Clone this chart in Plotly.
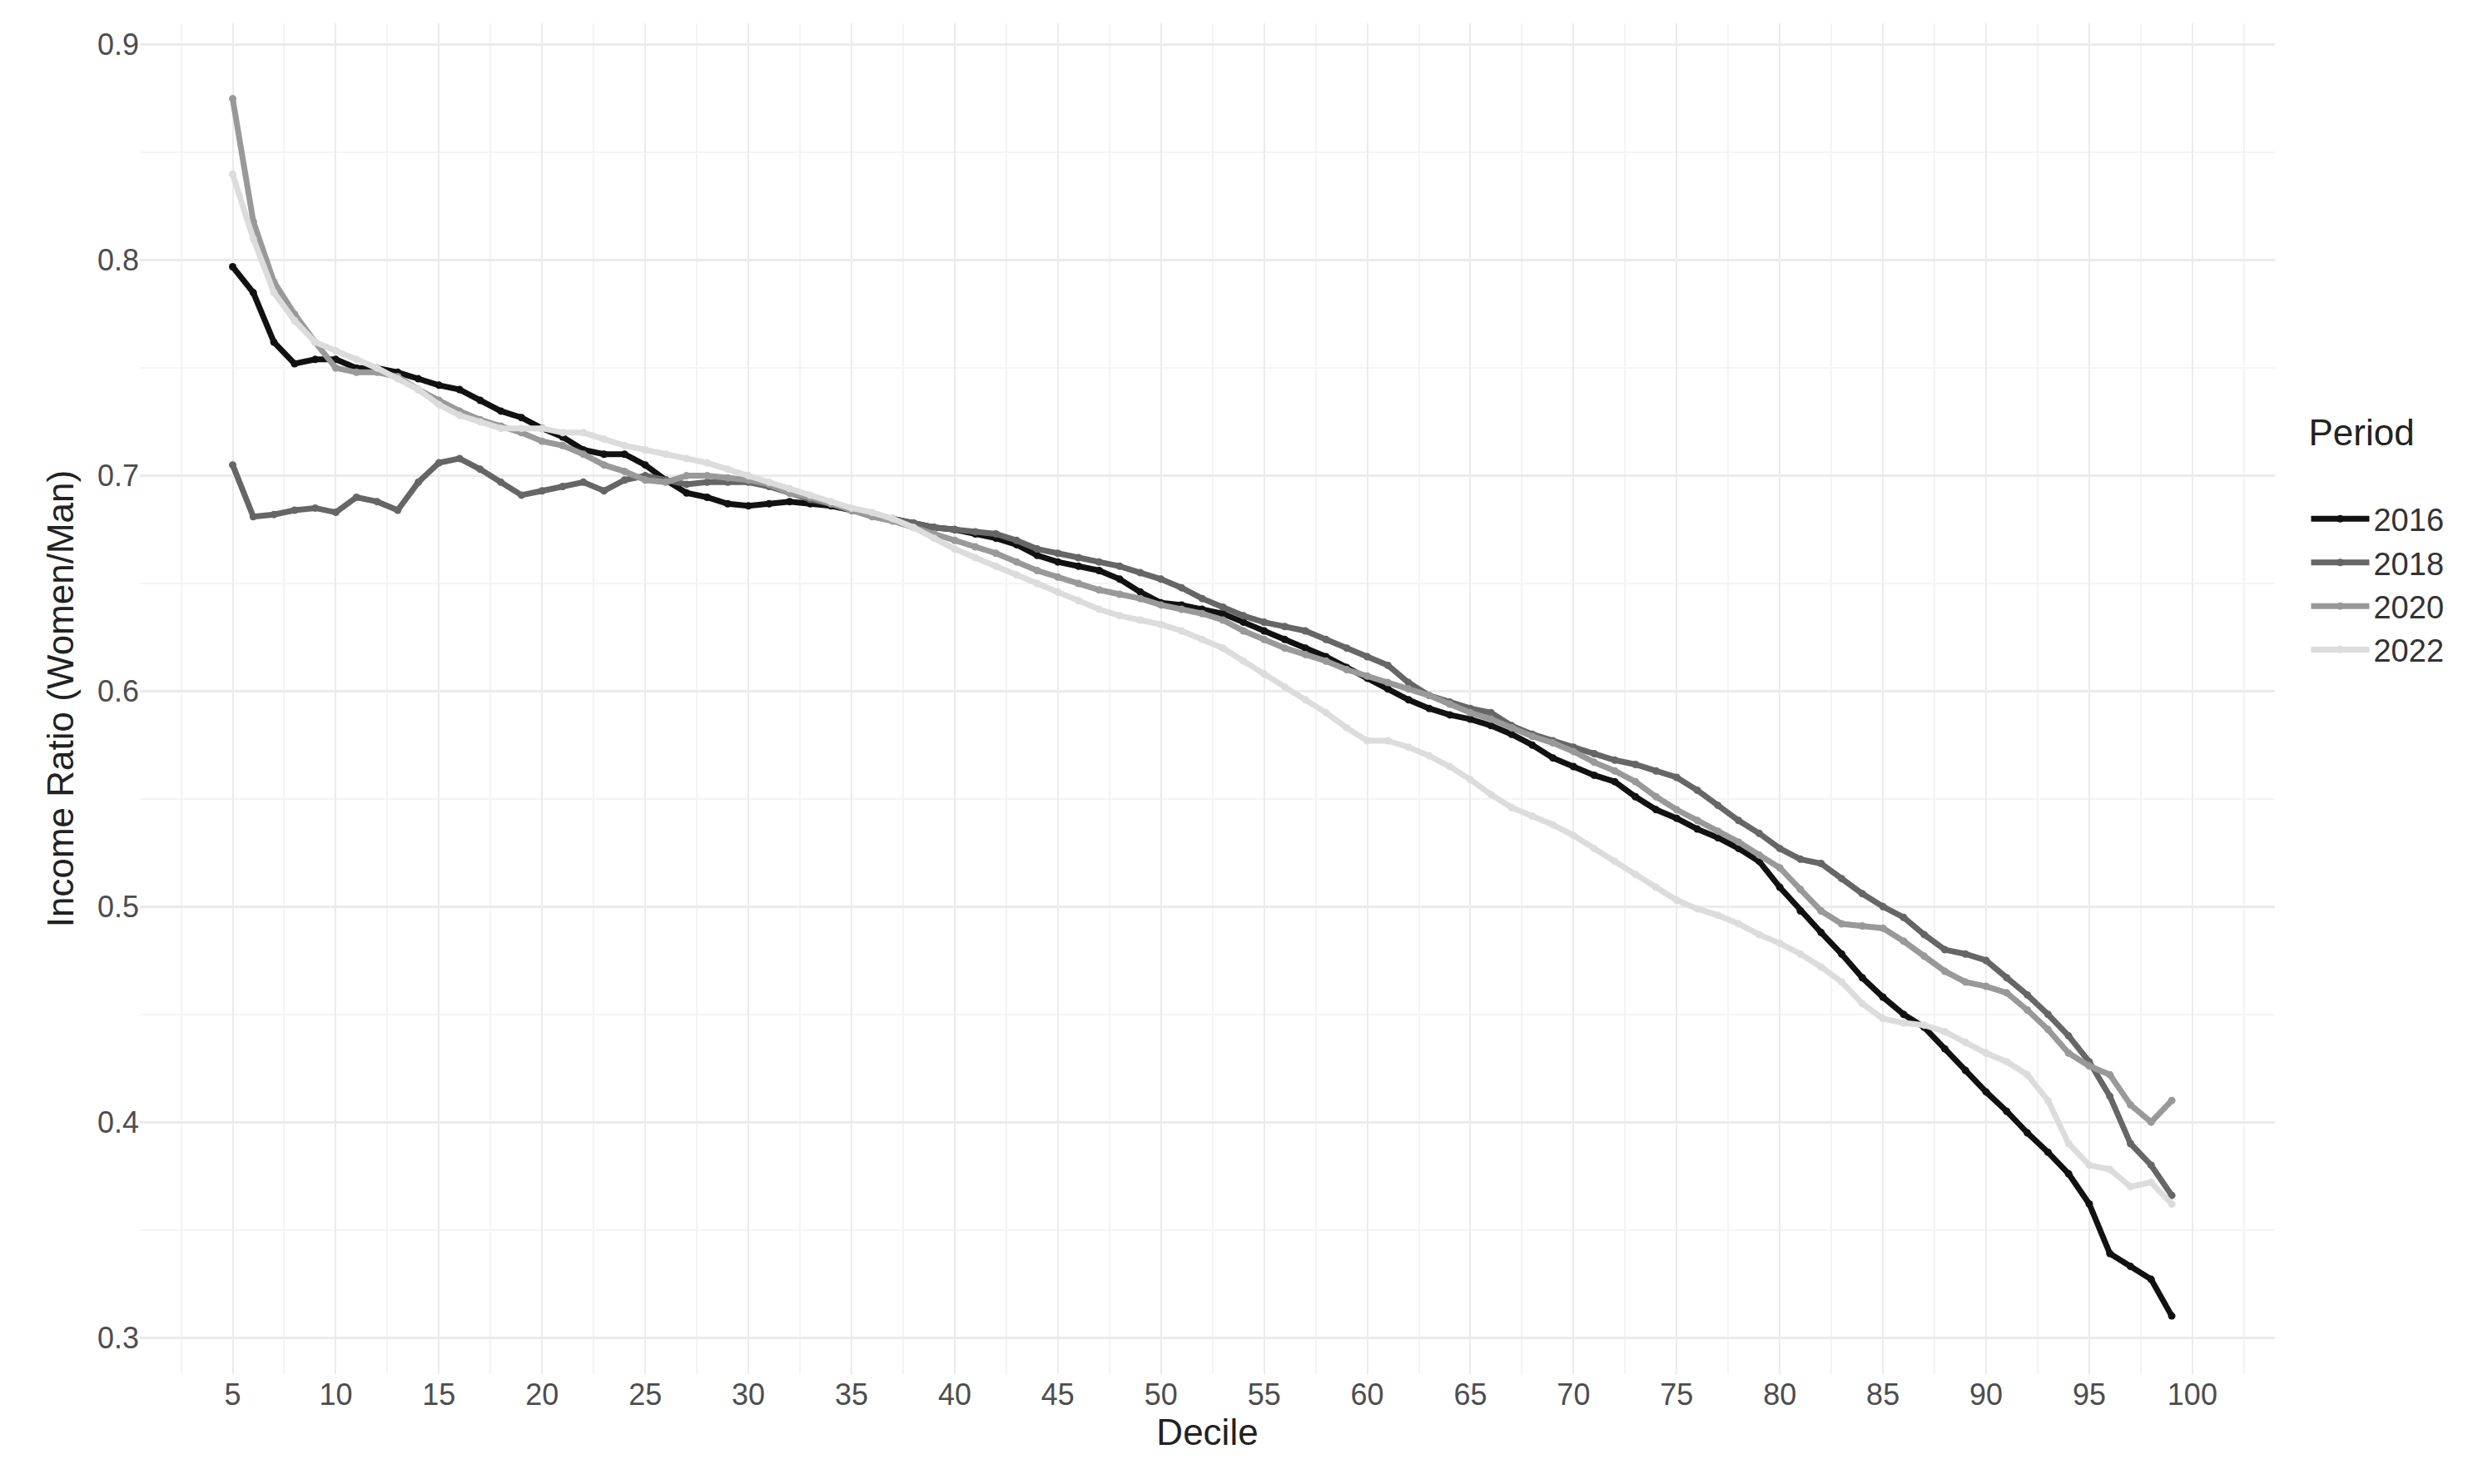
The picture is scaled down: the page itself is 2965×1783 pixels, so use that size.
import plotly.graph_objects as go

# === DATA ===
deciles = list(range(5, 100))

r2016 = [0.797, 0.785, 0.762, 0.752, 0.754, 0.754, 0.750, 0.750, 0.748, 0.745,
         0.742, 0.740, 0.735, 0.730, 0.727, 0.722, 0.718, 0.712, 0.710, 0.710,
         0.705, 0.698, 0.692, 0.690, 0.687, 0.686, 0.687, 0.688, 0.687, 0.686,
         0.684, 0.682, 0.680, 0.678, 0.676, 0.675, 0.673, 0.671, 0.668, 0.663,
         0.660, 0.658, 0.656, 0.652, 0.646, 0.641, 0.640, 0.638, 0.636, 0.632,
         0.628, 0.624, 0.620, 0.616, 0.611, 0.606, 0.601, 0.596, 0.592, 0.589,
         0.587, 0.584, 0.580, 0.575, 0.569, 0.565, 0.561, 0.558, 0.551, 0.545,
         0.541, 0.536, 0.532, 0.527, 0.521, 0.509, 0.498, 0.488, 0.478, 0.467,
         0.458, 0.450, 0.444, 0.434, 0.424, 0.414, 0.405, 0.395, 0.386, 0.376,
         0.362, 0.339, 0.333, 0.327, 0.310]

r2018 = [0.705, 0.681, 0.682, 0.684, 0.685, 0.683, 0.690, 0.688, 0.684, 0.697,
         0.706, 0.708, 0.703, 0.697, 0.691, 0.693, 0.695, 0.697, 0.693, 0.698,
         0.700, 0.698, 0.696, 0.697, 0.697, 0.697, 0.695, 0.692, 0.689, 0.687,
         0.684, 0.682, 0.680, 0.678, 0.676, 0.675, 0.674, 0.673, 0.670, 0.666,
         0.664, 0.662, 0.660, 0.658, 0.655, 0.652, 0.648, 0.643, 0.639, 0.635,
         0.632, 0.630, 0.628, 0.624, 0.620, 0.616, 0.612, 0.604, 0.598, 0.595,
         0.592, 0.590, 0.584, 0.580, 0.577, 0.574, 0.571, 0.568, 0.566, 0.563,
         0.560, 0.554, 0.547, 0.540, 0.534, 0.527, 0.522, 0.520, 0.513, 0.506,
         0.500, 0.495, 0.487, 0.480, 0.478, 0.475, 0.467, 0.459, 0.450, 0.440,
         0.428, 0.412, 0.390, 0.380, 0.366]

r2020 = [0.875, 0.818, 0.790, 0.775, 0.762, 0.750, 0.748, 0.748, 0.746, 0.740,
         0.735, 0.730, 0.726, 0.723, 0.720, 0.716, 0.714, 0.710, 0.705, 0.702,
         0.698, 0.697, 0.700, 0.700, 0.699, 0.698, 0.696, 0.692, 0.690, 0.687,
         0.684, 0.681, 0.679, 0.676, 0.673, 0.670, 0.667, 0.664, 0.660, 0.656,
         0.653, 0.650, 0.647, 0.645, 0.643, 0.640, 0.638, 0.636, 0.633, 0.628,
         0.624, 0.620, 0.617, 0.614, 0.610, 0.607, 0.604, 0.601, 0.598, 0.594,
         0.590, 0.587, 0.583, 0.579, 0.576, 0.572, 0.567, 0.563, 0.558, 0.551,
         0.545, 0.540, 0.535, 0.530, 0.524, 0.518, 0.508, 0.498, 0.492, 0.491,
         0.490, 0.484, 0.477, 0.470, 0.465, 0.463, 0.460, 0.452, 0.443, 0.432,
         0.426, 0.422, 0.408, 0.400, 0.410]

r2022 = [0.840, 0.810, 0.785, 0.772, 0.762, 0.758, 0.754, 0.750, 0.745, 0.740,
         0.733, 0.728, 0.725, 0.722, 0.722, 0.722, 0.720, 0.720, 0.717, 0.714,
         0.712, 0.710, 0.708, 0.706, 0.703, 0.700, 0.697, 0.694, 0.691, 0.688,
         0.685, 0.683, 0.680, 0.676, 0.671, 0.666, 0.662, 0.658, 0.654, 0.650,
         0.646, 0.642, 0.638, 0.635, 0.633, 0.631, 0.628, 0.624, 0.620, 0.614,
         0.608, 0.602, 0.596, 0.590, 0.583, 0.577, 0.577, 0.574, 0.570, 0.565,
         0.559, 0.552, 0.546, 0.542, 0.538, 0.533, 0.527, 0.521, 0.515, 0.509,
         0.503, 0.499, 0.496, 0.492, 0.487, 0.483, 0.478, 0.472, 0.465, 0.455,
         0.448, 0.446, 0.445, 0.442, 0.437, 0.432, 0.428, 0.422, 0.410, 0.390,
         0.380, 0.378, 0.370, 0.372, 0.362]

periods = ["2016", "2018", "2020", "2022"]
series = [r2016, r2018, r2020, r2022]
colors = ["#111111", "#666666", "#999999", "#dcdcdc"]

x_ticks = list(range(5, 101, 5))
y_ticks = [0.3, 0.4, 0.5, 0.6, 0.7, 0.8, 0.9]

# === FIGURE ===
fig = go.Figure()
for name, ys, col in zip(periods, series, colors):
    fig.add_trace(go.Scatter(
        x=deciles, y=ys, name=name, mode="lines+markers",
        line=dict(color=col, width=7),
        marker=dict(color=col, size=9),
    ))

grid = "#ebebeb"
fig.update_layout(
    width=2965, height=1783,
    paper_bgcolor="white", plot_bgcolor="white",
    margin=dict(l=160, r=240, t=20, b=140),
    font=dict(family="Liberation Sans, Arial", color="#4d4d4d", size=36),
    legend=dict(
        title=dict(text="Period<br> ", font=dict(size=44, color="#222")),
        font=dict(size=38, color="#333"),
        x=1.015, y=0.62, yanchor="middle",
        itemwidth=70,
    ),
    xaxis=dict(
        title=dict(text="Decile", font=dict(size=44, color="#222"), standoff=6),
        range=[0.5, 104], tickvals=x_ticks, showline=False, zeroline=False,
        gridcolor=grid, gridwidth=2,
        minor=dict(dtick=2.5, tick0=2.5, gridcolor="#f4f4f4", gridwidth=1.5, showgrid=True),
    ),
    yaxis=dict(
        title=dict(text="Income Ratio (Women/Man)", font=dict(size=44, color="#222"), standoff=14),
        range=[0.283, 0.91], tickvals=y_ticks, tickformat=".1f",
        showline=False, zeroline=False, gridcolor=grid, gridwidth=3,
        minor=dict(dtick=0.05, tick0=0.25, gridcolor="#f4f4f4", gridwidth=1.5, showgrid=True),
    ),
)

fig.write_html("out.html")
